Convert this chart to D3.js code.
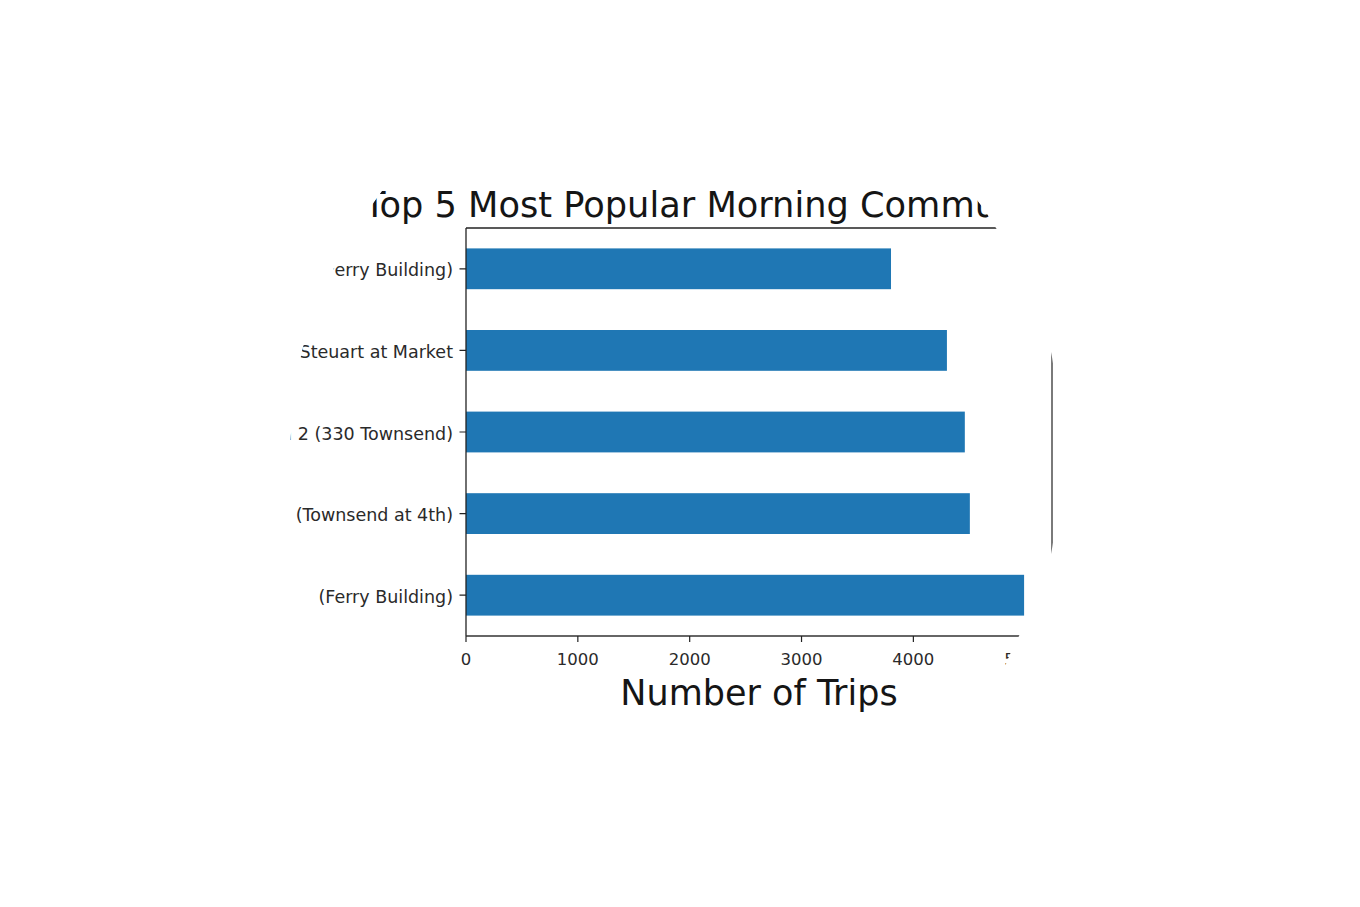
<!DOCTYPE html>
<html>
<head>
<meta charset="utf-8">
<script src="https://cdn.jsdelivr.net/npm/d3@7/dist/d3.min.js"></script>
<style>
  html, body { margin: 0; padding: 0; background: #fff; }
  svg { display: block; }
  text { font-family: "DejaVu Sans", sans-serif; }
</style>
</head>
<body>
<svg id="chart" width="1360" height="907"></svg>
<script>
// ---- data (top to bottom as displayed) ----
const categories = [
  "2nd at Townsend to Harry Bridges Plaza (Ferry Building)",
  "Embarcadero at Folsom to Steuart at Market",
  "Townsend at 7th to San Francisco Caltrain 2 (330 Townsend)",
  "Embarcadero at Sansome to San Francisco Caltrain (Townsend at 4th)",
  "Steuart at Market to Harry Bridges Plaza (Ferry Building)"
];
const trips = [3800, 4300, 4460, 4505, 4990];
const xTicks = [0, 1000, 2000, 3000, 4000, 5000];
const titleText = "Top 5 Most Popular Morning Commute Routes";
const xLabelText = "Number of Trips";

// ---- layout ----
const svg = d3.select("#chart");
svg.append("rect").attr("width", 1360).attr("height", 907).attr("fill", "#fff");

const plot = { left: 466, right: 1052, top: 228, bottom: 636 };

const x = d3.scaleLinear()
  .domain([0, d3.max(trips) * 1.05])
  .range([plot.left, plot.right]);

const y = d3.scaleBand()
  .domain(categories)
  .range([plot.top, plot.bottom])
  .paddingInner(0.5)
  .paddingOuter(0.25);

// clipping region (irregular visible window of the screenshot)
const clipPts = [
  [672, 80], [850, 110], [948, 168], [980, 204], [996, 228], [1022, 270],
  [1041, 312], [1050, 347], [1054, 372], [1056, 450], [1054, 533],
  [1050, 559], [1040, 595], [1028, 615], [1019, 636], [1011, 652],
  [1004, 668], [985, 700], [920, 745], [800, 775], [672, 785], [520, 775],
  [420, 742], [352, 682], [318, 602], [294, 545], [289, 482], [291, 433],
  [302, 351], [333, 270], [372, 205], [420, 150], [520, 100]
];
svg.append("clipPath").attr("id", "win")
  .append("path")
  .attr("d", d3.line().curve(d3.curveCatmullRomClosed.alpha(0.5))(clipPts));

const g = svg.append("g").attr("clip-path", "url(#win)");

// bars
g.selectAll("rect.bar")
  .data(categories)
  .join("rect")
  .attr("class", "bar")
  .attr("x", x(0))
  .attr("y", d => y(d))
  .attr("width", (d, i) => x(trips[i]) - x(0))
  .attr("height", y.bandwidth())
  .attr("fill", "#1f77b4");

// spines
function line(x1, y1, x2, y2, color, w) {
  g.append("line").attr("x1", x1).attr("y1", y1).attr("x2", x2).attr("y2", y2)
    .attr("stroke", color).attr("stroke-width", w);
}
line(plot.left, plot.top, plot.left, plot.bottom, "#222", 1.3);
line(plot.left, plot.top, x.range()[1], plot.top, "#222", 1.3);
line(plot.left, plot.bottom, x.range()[1], plot.bottom, "#333", 1.3);
line(x.range()[1], plot.top, x.range()[1], plot.bottom, "#7a7a7a", 2);

// x axis ticks + labels
const xAxis = g.append("g");
xTicks.forEach(t => {
  xAxis.append("line")
    .attr("x1", x(t)).attr("x2", x(t))
    .attr("y1", plot.bottom).attr("y2", plot.bottom + 6)
    .attr("stroke", "#222").attr("stroke-width", 1.2);
  xAxis.append("text")
    .attr("x", x(t)).attr("y", 665)
    .attr("text-anchor", "middle")
    .attr("font-size", 16.5)
    .attr("fill", "#2a2a2a")
    .text(t);
});

// y axis ticks + labels
const yAxis = g.append("g");
categories.forEach(c => {
  const cy = y(c) + y.bandwidth() / 2;
  yAxis.append("line")
    .attr("x1", plot.left - 6.5).attr("x2", plot.left)
    .attr("y1", cy).attr("y2", cy)
    .attr("stroke", "#222").attr("stroke-width", 1.2);
  yAxis.append("text")
    .attr("x", 453).attr("y", cy + 7.5)
    .attr("text-anchor", "end")
    .attr("font-size", 17.5)
    .attr("fill", "#2a2a2a")
    .text(c);
});

// title and x label
const cx = (x.range()[0] + x.range()[1]) / 2;
g.append("text")
  .attr("x", cx + 5).attr("y", 217)
  .attr("text-anchor", "middle")
  .attr("font-size", 35.2)
  .attr("fill", "#151515")
  .text(titleText);

g.append("text")
  .attr("x", cx).attr("y", 705)
  .attr("text-anchor", "middle")
  .attr("font-size", 35)
  .attr("fill", "#151515")
  .text(xLabelText);
</script>
</body>
</html>
